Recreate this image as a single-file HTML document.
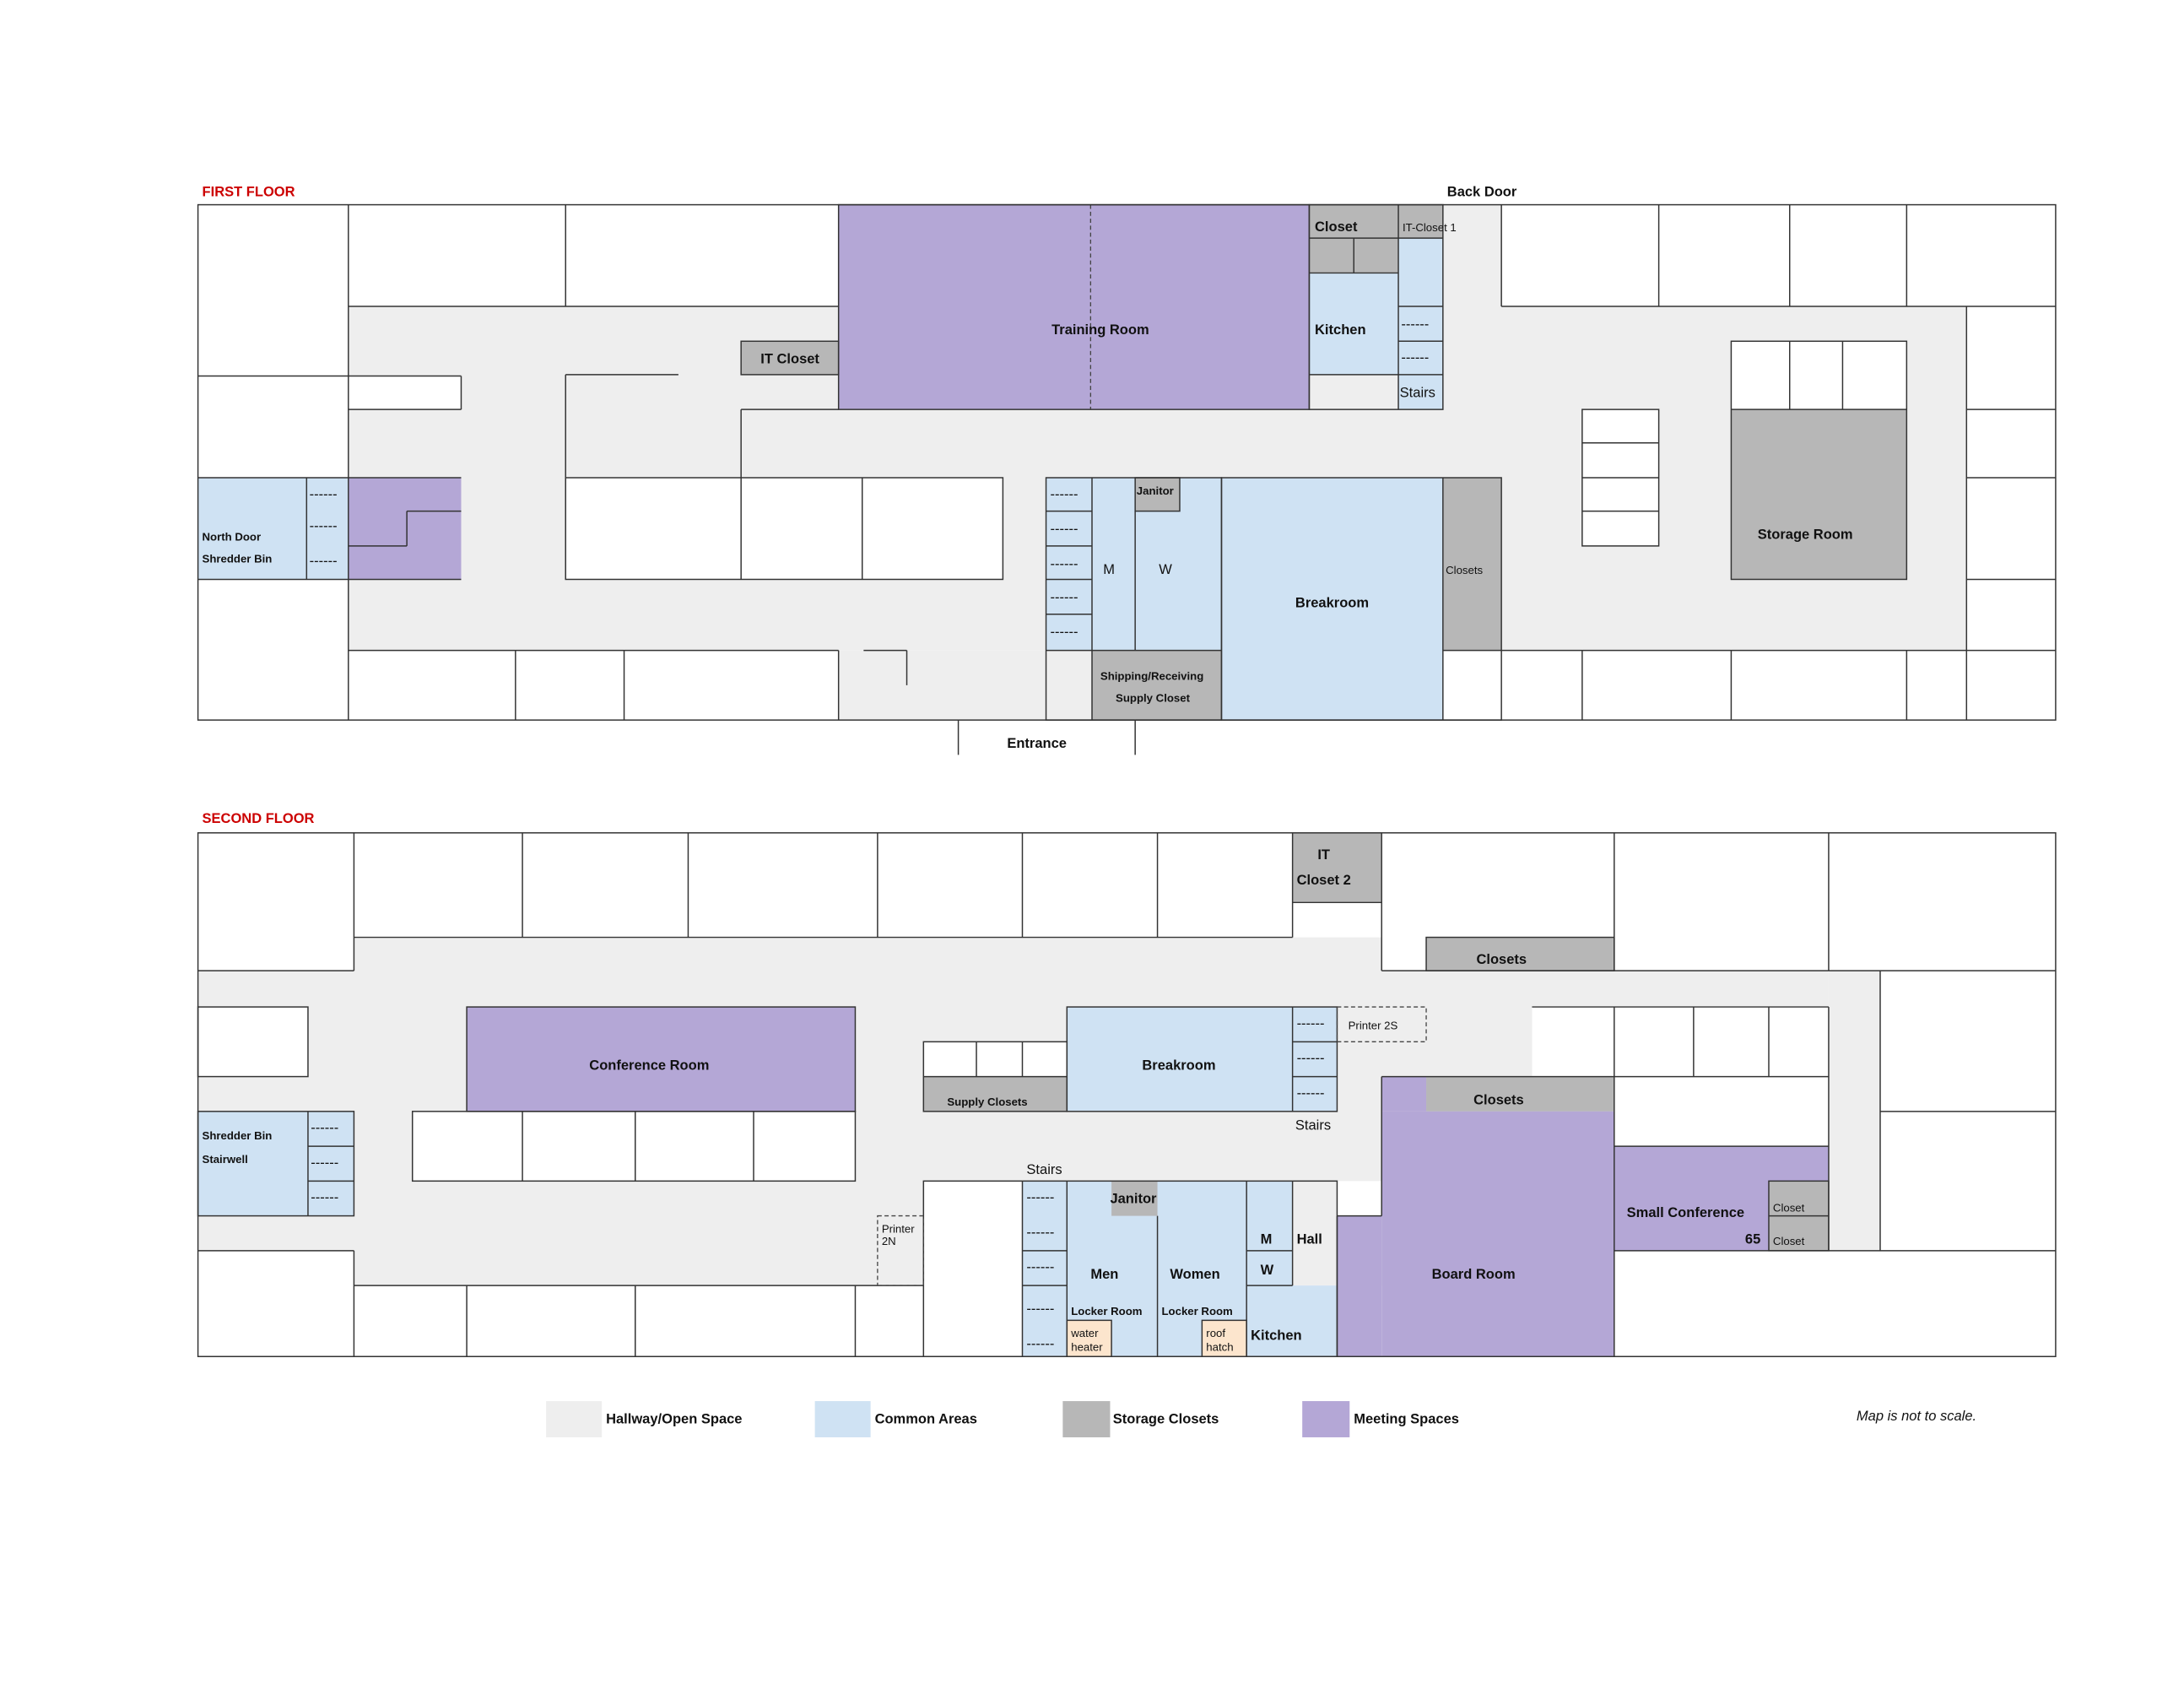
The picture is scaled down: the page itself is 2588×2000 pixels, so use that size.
<!DOCTYPE html>
<html><head><meta charset="utf-8"><style>
html,body{margin:0;padding:0;background:#fff;}
svg{display:block}
text{font-family:"Liberation Sans",Arial,sans-serif;font-size:10px;fill:#111;}
.b{font-weight:bold}
.r{fill:#cc0000;font-weight:bold;font-size:10px}
.s{font-size:8px}
.h{fill:#eeeeee}.c{fill:#cfe2f3}.g{fill:#b7b7b7}.p{fill:#b4a7d6}.w{fill:#fff}.o{fill:#fce5cd}
.l{stroke:#333;stroke-width:0.9;fill:none}
.d{stroke:#444;stroke-width:0.8;fill:none;stroke-dasharray:3 2}
</style></head><body>
<svg width="2588" height="2000" viewBox="0 0 1568 1212" xmlns="http://www.w3.org/2000/svg">
<rect width="1568" height="1212" fill="#fff"/>
<!-- FIRST FLOOR -->
<text x="145" y="141" class="r">FIRST FLOOR</text>
<text x="1039" y="141" class="b">Back Door</text>
<rect x="250" y="220" width="1162" height="247" class="h"/>
<rect x="602" y="467" width="183" height="50" class="h"/>
<rect x="1036" y="147" width="42" height="73" class="h"/>
<rect x="406" y="343" width="314" height="73" class="w"/>
<rect x="250" y="270" width="81" height="24" class="w"/>
<rect x="1136" y="294" width="55" height="98" class="w"/>
<rect x="1243" y="245" width="126" height="49" class="w"/>
<rect x="1243" y="294" width="126" height="122" class="g"/>
<rect x="602" y="147" width="338" height="147" class="p"/>
<line x1="783" y1="147" x2="783" y2="294" class="d"/>
<rect x="940" y="147" width="64" height="49" class="g"/>
<rect x="1004" y="147" width="32" height="24" class="g"/>
<rect x="940" y="196" width="64" height="73" class="c"/>
<rect x="1004" y="171" width="32" height="123" class="c"/>
<rect x="532" y="245" width="70" height="24" class="g"/>
<rect x="751" y="343" width="33" height="124" class="c"/>
<rect x="784" y="343" width="93" height="124" class="c"/>
<rect x="815" y="343" width="32" height="24" class="g"/>
<rect x="784" y="467" width="93" height="50" class="g"/>
<rect x="877" y="343" width="159" height="174" class="c"/>
<rect x="1036" y="343" width="42" height="124" class="g"/>
<rect x="142" y="343" width="78" height="73" class="c"/>
<rect x="220" y="343" width="30" height="73" class="c"/>
<rect x="250" y="343" width="81" height="73" class="p"/>
<g class="l">
<rect x="142" y="147" width="1334" height="370"/>
<line x1="250" y1="147" x2="250" y2="220"/><line x1="250" y1="220" x2="250" y2="270"/>
<line x1="142" y1="270" x2="331" y2="270"/><line x1="331" y1="270" x2="331" y2="294"/><line x1="250" y1="294" x2="331" y2="294"/>
<line x1="250" y1="270" x2="250" y2="343"/>
<line x1="142" y1="343" x2="331" y2="343"/><line x1="142" y1="416" x2="331" y2="416"/>
<line x1="220" y1="343" x2="220" y2="416"/><line x1="250" y1="343" x2="250" y2="517"/>
<line x1="292" y1="367" x2="331" y2="367"/><line x1="292" y1="367" x2="292" y2="392"/><line x1="250" y1="392" x2="292" y2="392"/>
<line x1="250" y1="220" x2="602" y2="220"/><line x1="406" y1="147" x2="406" y2="220"/>
<line x1="406" y1="269" x2="487" y2="269"/><line x1="406" y1="269" x2="406" y2="416"/>
<line x1="532" y1="294" x2="532" y2="343"/><line x1="532" y1="294" x2="602" y2="294"/>
<rect x="406" y="343" width="314" height="73"/><line x1="532" y1="343" x2="532" y2="416"/><line x1="619" y1="343" x2="619" y2="416"/>
<rect x="532" y="245" width="70" height="24"/>
<line x1="250" y1="467" x2="602" y2="467"/><line x1="370" y1="467" x2="370" y2="517"/><line x1="448" y1="467" x2="448" y2="517"/><line x1="602" y1="467" x2="602" y2="517"/>
<line x1="620" y1="467" x2="651" y2="467"/><line x1="651" y1="467" x2="651" y2="492"/>
<rect x="602" y="147" width="338" height="147"/>
<rect x="940" y="147" width="96" height="147"/><line x1="940" y1="196" x2="1004" y2="196"/><line x1="1004" y1="147" x2="1004" y2="294"/>
<line x1="972" y1="171" x2="972" y2="196"/><line x1="940" y1="171" x2="1036" y2="171"/><line x1="940" y1="269" x2="1004" y2="269"/>
<line x1="1004" y1="220" x2="1036" y2="220"/><line x1="1004" y1="245" x2="1036" y2="245"/><line x1="1004" y1="269" x2="1036" y2="269"/>
<rect x="751" y="343" width="126" height="174"/><line x1="784" y1="343" x2="784" y2="517"/><line x1="751" y1="467" x2="877" y2="467"/>
<line x1="815" y1="367" x2="815" y2="467"/><rect x="815" y="343" width="32" height="24"/>
<line x1="751" y1="367" x2="784" y2="367"/><line x1="751" y1="392" x2="784" y2="392"/><line x1="751" y1="416" x2="784" y2="416"/><line x1="751" y1="441" x2="784" y2="441"/>
<rect x="877" y="343" width="201" height="174"/><line x1="1036" y1="343" x2="1036" y2="517"/><line x1="1036" y1="467" x2="1476" y2="467"/>
<line x1="1078" y1="147" x2="1078" y2="220"/><line x1="1078" y1="220" x2="1476" y2="220"/>
<line x1="1191" y1="147" x2="1191" y2="220"/><line x1="1285" y1="147" x2="1285" y2="220"/><line x1="1369" y1="147" x2="1369" y2="220"/>
<rect x="1136" y="294" width="55" height="98"/><line x1="1136" y1="318" x2="1191" y2="318"/><line x1="1136" y1="343" x2="1191" y2="343"/><line x1="1136" y1="367" x2="1191" y2="367"/>
<rect x="1243" y="245" width="126" height="171"/><line x1="1243" y1="294" x2="1369" y2="294"/><line x1="1285" y1="245" x2="1285" y2="294"/><line x1="1323" y1="245" x2="1323" y2="294"/>
<line x1="1412" y1="220" x2="1412" y2="517"/><line x1="1412" y1="294" x2="1476" y2="294"/><line x1="1412" y1="343" x2="1476" y2="343"/><line x1="1412" y1="416" x2="1476" y2="416"/>
<line x1="1136" y1="467" x2="1136" y2="517"/><line x1="1243" y1="467" x2="1243" y2="517"/><line x1="1369" y1="467" x2="1369" y2="517"/>
<line x1="688" y1="517" x2="688" y2="542"/><line x1="815" y1="517" x2="815" y2="542"/>
</g>
<g class="s"><text x="222" y="358">------</text><text x="222" y="381">------</text><text x="222" y="406">------</text>
<text x="754" y="358">------</text><text x="754" y="383">------</text><text x="754" y="408">------</text><text x="754" y="432">------</text><text x="754" y="457">------</text>
<text x="1006" y="236">------</text><text x="1006" y="260">------</text></g>
<text x="755" y="240" class="b">Training Room</text>
<text x="944" y="166" class="b">Closet</text>
<text x="1007" y="166" class="s">IT-Closet 1</text>
<text x="944" y="240" class="b">Kitchen</text>
<text x="1005" y="285">Stairs</text>
<text x="546" y="261" class="b">IT Closet</text>
<text x="816" y="355" class="s b">Janitor</text>
<text x="792" y="412">M</text><text x="832" y="412">W</text>
<text x="930" y="436" class="b">Breakroom</text>
<text x="1038" y="412" class="s">Closets</text>
<text x="790" y="488" class="s b">Shipping/Receiving</text>
<text x="801" y="504" class="s b">Supply Closet</text>
<text x="145" y="388" class="s b">North Door</text>
<text x="145" y="404" class="s b">Shredder Bin</text>
<text x="1262" y="387" class="b">Storage Room</text>
<text x="723" y="537" class="b">Entrance</text>

<!-- SECOND FLOOR -->
<text x="145" y="591" class="r">SECOND FLOOR</text>
<rect x="142" y="673" width="1171" height="250" class="h"/>
<rect x="1313" y="697" width="37" height="201" class="h"/>
<rect x="142" y="723" width="79" height="50" class="w"/>
<rect x="142" y="798" width="79" height="75" class="c"/>
<rect x="221" y="798" width="33" height="75" class="c"/>
<rect x="142" y="598" width="112" height="99" class="w"/>
<rect x="928" y="598" width="64" height="50" class="g"/>
<rect x="992" y="598" width="321" height="99" class="w"/>
<rect x="1024" y="673" width="135" height="24" class="g"/>
<rect x="335" y="723" width="279" height="75" class="p"/>
<rect x="296" y="798" width="318" height="50" class="w"/>
<rect x="663" y="748" width="103" height="25" class="w"/>
<rect x="663" y="773" width="103" height="25" class="g"/>
<rect x="766" y="723" width="162" height="75" class="c"/>
<rect x="928" y="723" width="32" height="75" class="c"/>
<rect x="1100" y="723" width="213" height="50" class="w"/>
<rect x="1024" y="773" width="135" height="25" class="g"/>
<rect x="1159" y="773" width="154" height="50" class="w"/>
<rect x="1159" y="823" width="154" height="75" class="p"/>
<rect x="1270" y="848" width="43" height="50" class="g"/>
<rect x="992" y="773" width="32" height="25" class="p"/>
<rect x="992" y="798" width="167" height="176" class="p"/>
<rect x="960" y="873" width="32" height="101" class="p"/>
<rect x="960" y="848" width="32" height="25" class="w"/>
<rect x="663" y="848" width="71" height="75" class="w"/>
<rect x="734" y="848" width="32" height="126" class="c"/>
<rect x="766" y="848" width="129" height="126" class="c"/>
<rect x="798" y="848" width="33" height="25" class="g"/>
<rect x="895" y="848" width="33" height="75" class="c"/>
<rect x="895" y="923" width="65" height="51" class="c"/>
<rect x="766" y="948" width="32" height="26" class="o"/>
<rect x="863" y="948" width="32" height="26" class="o"/>
<rect x="1350" y="697" width="126" height="201" class="w"/>
<rect x="142" y="898" width="112" height="76" class="w"/>
<rect x="254" y="923" width="480" height="51" class="w"/>
<rect x="1159" y="898" width="317" height="76" class="w"/>
<g class="l">
<rect x="142" y="598" width="1334" height="376"/>
<line x1="254" y1="598" x2="254" y2="697"/><line x1="142" y1="697" x2="254" y2="697"/>
<line x1="254" y1="673" x2="928" y2="673"/>
<line x1="375" y1="598" x2="375" y2="673"/><line x1="494" y1="598" x2="494" y2="673"/><line x1="630" y1="598" x2="630" y2="673"/><line x1="734" y1="598" x2="734" y2="673"/><line x1="831" y1="598" x2="831" y2="673"/>
<line x1="928" y1="598" x2="928" y2="673"/><line x1="928" y1="648" x2="992" y2="648"/><line x1="992" y1="598" x2="992" y2="697"/>
<line x1="992" y1="697" x2="1313" y2="697"/><line x1="1159" y1="598" x2="1159" y2="697"/><line x1="1313" y1="598" x2="1313" y2="697"/>
<line x1="1313" y1="697" x2="1476" y2="697"/><line x1="1350" y1="697" x2="1350" y2="898"/><line x1="1350" y1="798" x2="1476" y2="798"/><line x1="1313" y1="898" x2="1476" y2="898"/>
<rect x="1024" y="673" width="135" height="24"/>
<rect x="142" y="723" width="79" height="50"/>
<rect x="142" y="798" width="112" height="75"/><line x1="221" y1="798" x2="221" y2="873"/><line x1="221" y1="823" x2="254" y2="823"/><line x1="221" y1="848" x2="254" y2="848"/>
<line x1="142" y1="898" x2="254" y2="898"/><line x1="254" y1="898" x2="254" y2="974"/>
<rect x="335" y="723" width="279" height="75"/>
<rect x="296" y="798" width="318" height="50"/><line x1="375" y1="798" x2="375" y2="848"/><line x1="456" y1="798" x2="456" y2="848"/><line x1="541" y1="798" x2="541" y2="848"/>
<line x1="254" y1="923" x2="663" y2="923"/><line x1="335" y1="923" x2="335" y2="974"/><line x1="456" y1="923" x2="456" y2="974"/><line x1="614" y1="923" x2="614" y2="974"/>
<rect x="663" y="748" width="103" height="50"/><line x1="663" y1="773" x2="766" y2="773"/><line x1="701" y1="748" x2="701" y2="773"/><line x1="734" y1="748" x2="734" y2="773"/>
<rect x="766" y="723" width="194" height="75"/><line x1="928" y1="723" x2="928" y2="798"/>
<line x1="928" y1="748" x2="960" y2="748"/><line x1="928" y1="773" x2="960" y2="773"/>
<line x1="992" y1="773" x2="1313" y2="773"/><line x1="1100" y1="723" x2="1313" y2="723"/><line x1="1159" y1="723" x2="1159" y2="773"/><line x1="1216" y1="723" x2="1216" y2="773"/><line x1="1270" y1="723" x2="1270" y2="773"/><line x1="1313" y1="723" x2="1313" y2="898"/>
<line x1="1159" y1="823" x2="1313" y2="823"/><line x1="1159" y1="773" x2="1159" y2="974"/><line x1="1159" y1="898" x2="1313" y2="898"/>
<rect x="1270" y="848" width="43" height="50"/><line x1="1270" y1="873" x2="1313" y2="873"/>
<line x1="992" y1="773" x2="992" y2="873"/><line x1="960" y1="873" x2="992" y2="873"/><line x1="960" y1="873" x2="960" y2="974"/>
<rect x="663" y="848" width="297" height="126"/><line x1="734" y1="848" x2="734" y2="974"/><line x1="766" y1="848" x2="766" y2="974"/><line x1="831" y1="873" x2="831" y2="974"/><line x1="895" y1="848" x2="895" y2="974"/>
<line x1="895" y1="898" x2="928" y2="898"/><line x1="895" y1="923" x2="928" y2="923"/><line x1="928" y1="848" x2="928" y2="923"/>
<line x1="734" y1="898" x2="766" y2="898"/><line x1="734" y1="923" x2="766" y2="923"/>
<rect x="766" y="948" width="32" height="26"/><rect x="863" y="948" width="32" height="26"/>
</g>
<rect x="960" y="723" width="64" height="25" class="d"/>
<rect x="630" y="873" width="33" height="50" class="d"/>
<g class="s"><text x="223" y="813">------</text><text x="223" y="838">------</text><text x="223" y="863">------</text>
<text x="931" y="738">------</text><text x="931" y="763">------</text><text x="931" y="788">------</text>
<text x="737" y="863">------</text><text x="737" y="888">------</text><text x="737" y="913">------</text><text x="737" y="943">------</text><text x="737" y="968">------</text></g>
<text x="946" y="617" class="b">IT</text><text x="931" y="635" class="b">Closet 2</text>
<text x="1060" y="692" class="b">Closets</text>
<text x="423" y="768" class="b">Conference Room</text>
<text x="820" y="768" class="b">Breakroom</text>
<text x="968" y="739" class="s">Printer 2S</text>
<text x="680" y="794" class="s b">Supply Closets</text>
<text x="1058" y="793" class="b">Closets</text>
<text x="930" y="811">Stairs</text>
<text x="737" y="843">Stairs</text>
<text x="145" y="818" class="s b">Shredder Bin</text>
<text x="145" y="835" class="s b">Stairwell</text>
<text x="633" y="885" class="s">Printer</text><text x="633" y="894" class="s">2N</text>
<text x="797" y="864" class="b">Janitor</text>
<text x="783" y="918" class="b">Men</text>
<text x="840" y="918" class="b">Women</text>
<text x="769" y="944" class="s b">Locker Room</text>
<text x="834" y="944" class="s b">Locker Room</text>
<text x="769" y="960" class="s">water</text><text x="769" y="970" class="s">heater</text>
<text x="866" y="960" class="s">roof</text><text x="866" y="970" class="s">hatch</text>
<text x="905" y="893" class="b">M</text><text x="905" y="915" class="b">W</text>
<text x="931" y="893" class="b">Hall</text>
<text x="898" y="962" class="b">Kitchen</text>
<text x="1028" y="918" class="b">Board Room</text>
<text x="1168" y="874" class="b">Small Conference</text>
<text x="1253" y="893" class="b">65</text>
<text x="1273" y="870" class="s">Closet</text><text x="1273" y="894" class="s">Closet</text>

<!-- LEGEND -->
<rect x="392" y="1006" width="40" height="26" class="h"/>
<text x="435" y="1022" class="b">Hallway/Open Space</text>
<rect x="585" y="1006" width="40" height="26" class="c"/>
<text x="628" y="1022" class="b">Common Areas</text>
<rect x="763" y="1006" width="34" height="26" class="g"/>
<text x="799" y="1022" class="b">Storage Closets</text>
<rect x="935" y="1006" width="34" height="26" class="p"/>
<text x="972" y="1022" class="b">Meeting Spaces</text>
<text x="1333" y="1020" font-style="italic">Map is not to scale.</text>
</svg>
</body></html>
